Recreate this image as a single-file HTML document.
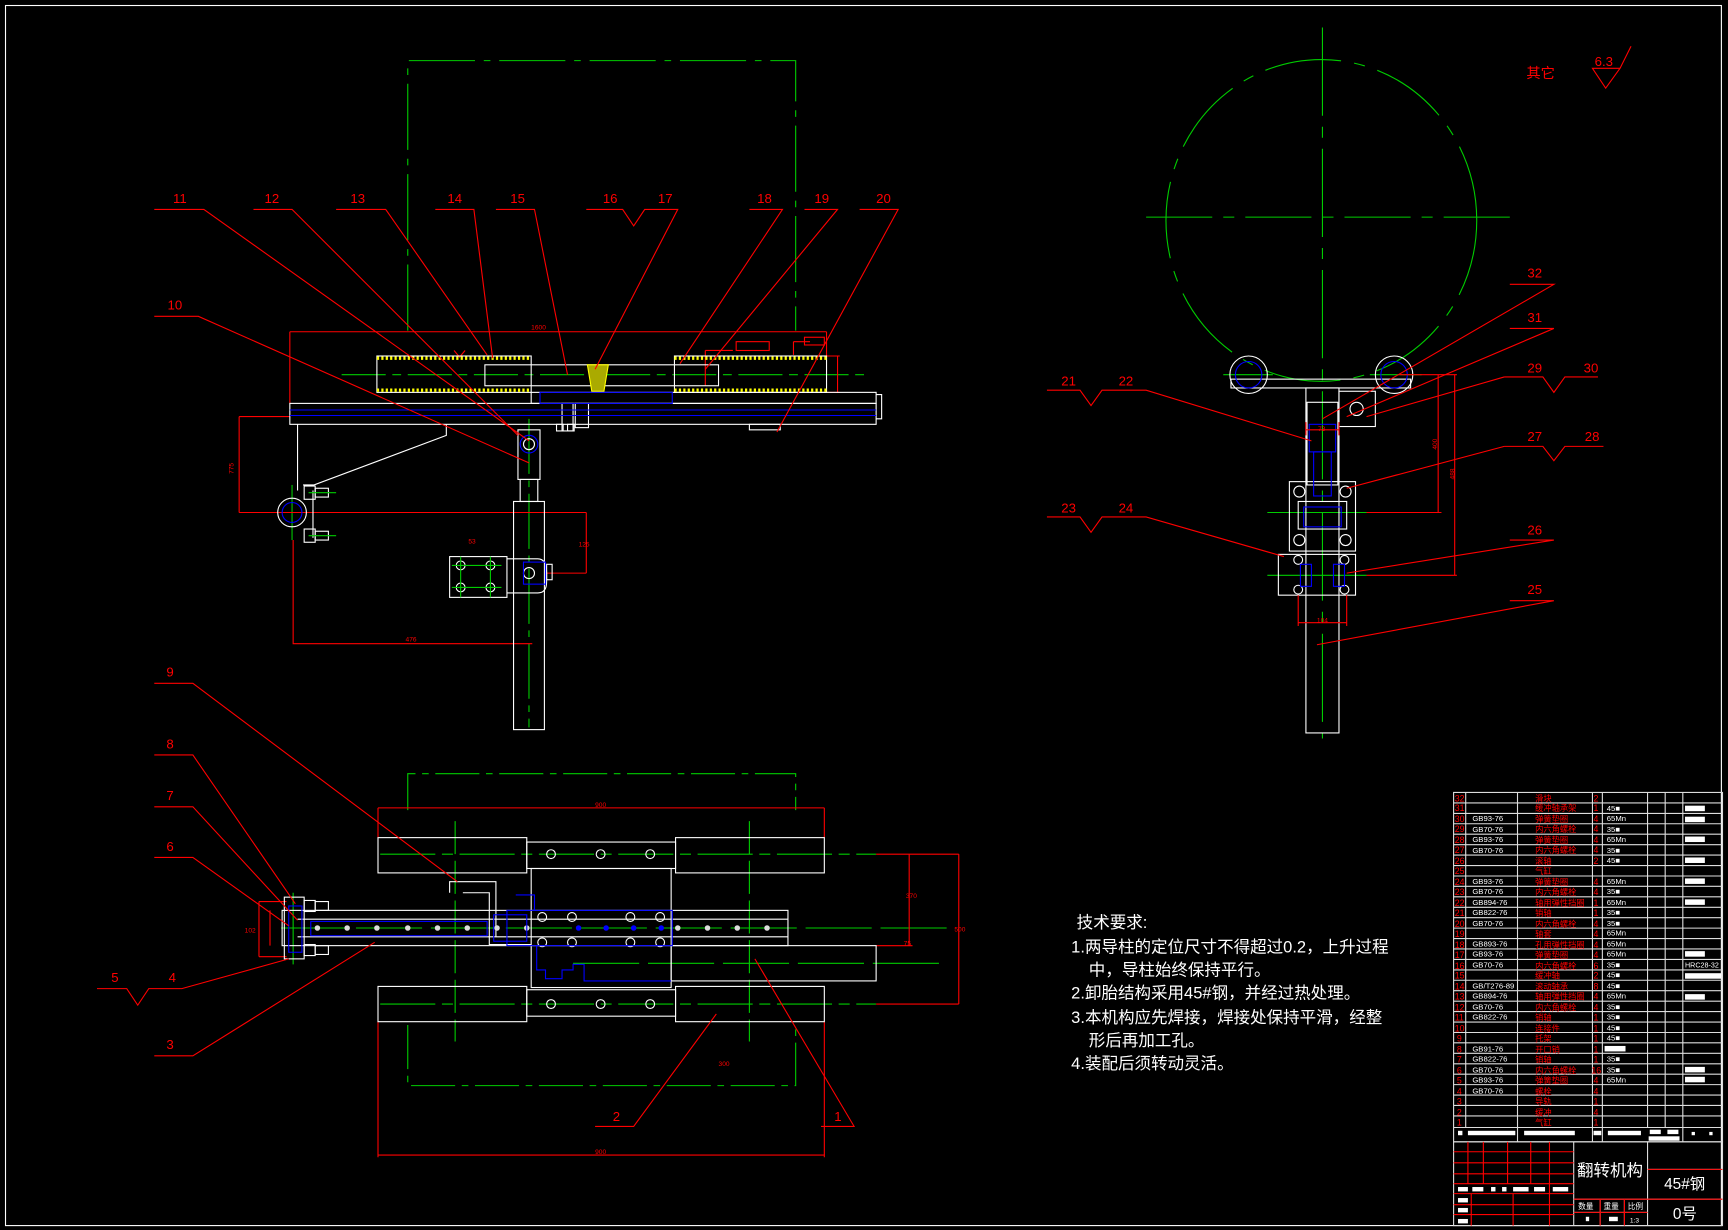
<!DOCTYPE html>
<html><head><meta charset="utf-8"><style>
html,body{margin:0;padding:0;background:#000;}
svg{display:block}
text{font-family:"Liberation Sans","Noto Sans CJK SC",sans-serif;}
</style></head><body>
<svg width="1728" height="1230" viewBox="0 0 1568 1116" preserveAspectRatio="none" xmlns="http://www.w3.org/2000/svg">
<rect x="0" y="0" width="1568" height="1116" fill="#000"/>
<rect x="5" y="5" width="1557" height="1107" fill="none" stroke="#fff" stroke-width="1"/>

<!-- ========== TOP-LEFT VIEW ========== -->
<g fill="none" stroke-width="1">
<path d="M370 300 V55 H722 V300" stroke="#0c0" stroke-dasharray="60 8 6 8"/>
<line x1="310" y1="340" x2="790" y2="340" stroke="#0c0" stroke-dasharray="40 6 8 6"/>
<line x1="480" y1="380" x2="480" y2="660" stroke="#0c0" stroke-dasharray="50 6 6 6"/>
<line x1="240" y1="465" x2="310" y2="465" stroke="#0c0"/>
<line x1="265" y1="440" x2="265" y2="490" stroke="#0c0"/>
<!-- dims -->
<g stroke="#f00">
<line x1="263" y1="301" x2="750" y2="301"/><line x1="263" y1="301" x2="263" y2="366"/>
<line x1="750" y1="301" x2="750" y2="323"/>
<path d="M217 378 H263 M217 378 V465 M217 465 H532 M532 465 V520 M495 520 H532"/>
<path d="M266 490 V584 H483"/>
<path d="M760 323 V356 M750 323 H762 M750 356 H762"/>
<path d="M720 310 V322 M720 310 H735"/><rect x="730" y="306" width="18" height="7"/>
<path d="M640 318 V350 M640 318 H665"/><rect x="668" y="310" width="30" height="8"/>
<path d="M412 318 L417 324 L422 318"/>
</g>
<g fill="#f00" font-size="6" stroke="none">
<text x="482" y="299">1600</text><text x="207" y="425" transform="rotate(-90 212 425)">775</text>
<text x="368" y="582">476</text><text x="525" y="496">125</text><text x="425" y="493">53</text>
</g>
<!-- tubes -->
<g stroke="#fff">
<rect x="342" y="323" width="140" height="33"/>
<rect x="612" y="323" width="138" height="33"/>
<rect x="440" y="331" width="212" height="19"/>
<rect x="482" y="356" width="313" height="10"/>
<rect x="263" y="366" width="532" height="19"/>
<path d="M795 358 H800 V380 H795"/>
<path d="M270 385 V445 M405 385 V395 L285 440 H275"/>
<rect x="466" y="455" width="28" height="207"/>
<rect x="472" y="435" width="16" height="20"/>
<rect x="470" y="390" width="20" height="45"/>
<rect x="408" y="505" width="52" height="37"/>
<path d="M460 507 H488 Q496 507 496 520 V528 Q496 538 488 538 H460"/>
<rect x="496" y="512" width="5" height="14"/>
<rect x="276" y="441" width="10" height="12"/><rect x="286" y="443" width="12" height="8"/>
<rect x="276" y="480" width="10" height="12"/><rect x="286" y="482" width="12" height="8"/>
<line x1="284" y1="445" x2="284" y2="488"/>
<rect x="522" y="366" width="12" height="22"/><rect x="510" y="366" width="10" height="25"/>
<rect x="680" y="385" width="28" height="5"/>
<rect x="515" y="385" width="6" height="6"/><rect x="505" y="385" width="6" height="6"/>
<circle cx="265" cy="465" r="13"/>
<circle cx="418" cy="513" r="4"/><circle cx="445" cy="513" r="4"/>
<circle cx="418" cy="533" r="4"/><circle cx="445" cy="533" r="4"/>
<circle cx="480" cy="520" r="5"/>
<circle cx="480" cy="403" r="5"/>
</g>
<g stroke="#ff0" stroke-width="3" stroke-dasharray="2 2">
<line x1="342" y1="325" x2="482" y2="325"/><line x1="342" y1="354" x2="482" y2="354"/>
<line x1="612" y1="325" x2="750" y2="325"/><line x1="612" y1="354" x2="750" y2="354"/>
</g>
<path d="M533 331 H552 L548 355 H537 Z" fill="#aa0" stroke="#ff0"/>
<g stroke="#00f">
<line x1="263" y1="372" x2="795" y2="372"/><line x1="263" y1="377" x2="795" y2="377"/>
<rect x="490" y="356" width="120" height="10"/>
<circle cx="265" cy="465" r="9"/><circle cx="480" cy="403" r="8"/>
<rect x="475" y="510" width="20" height="20"/>
</g>
<g stroke="#0c0">
<line x1="410" y1="513" x2="455" y2="513"/><line x1="410" y1="533" x2="455" y2="533"/>
<line x1="418" y1="505" x2="418" y2="542"/><line x1="445" y1="505" x2="445" y2="542"/>
<line x1="280" y1="447" x2="305" y2="447"/><line x1="280" y1="486" x2="305" y2="486"/>
</g>
</g>

<!-- leaders top -->
<g stroke="#f00" fill="none">
<path d="M140 190 H185 L480 400"/>
<path d="M230 190 H265 L470 395"/>
<path d="M305 190 H350 L442 322"/>
<path d="M395 190 H430 L447 325"/>
<path d="M450 190 H485 L515 340"/>
<path d="M532 190 H565 L575 205 L585 190 H615 L540 335"/>
<path d="M680 190 H710 L617 330"/>
<path d="M730 190 H760 L640 335"/>
<path d="M780 190 H815 L705 392"/>
<path d="M140 287 H180 L480 420"/>
</g>
<g fill="#f00" font-size="12">
<text x="157" y="184">11</text><text x="240" y="184">12</text><text x="318" y="184">13</text>
<text x="406" y="184">14</text><text x="463" y="184">15</text><text x="547" y="184">16</text>
<text x="597" y="184">17</text><text x="687" y="184">18</text><text x="739" y="184">19</text>
<text x="795" y="184">20</text><text x="152" y="281">10</text>
</g>

<!-- ========== BOTTOM-LEFT VIEW ========== -->
<g fill="none">
<path d="M370 735 V702 H722 V735 M370 930 V985 H722 V930" stroke="#0c0" stroke-dasharray="40 6 6 6"/>
<g stroke="#0c0">
<line x1="345" y1="775" x2="795" y2="775" stroke-dasharray="50 6 10 6"/>
<line x1="345" y1="911" x2="795" y2="911" stroke-dasharray="50 6 10 6"/>
<line x1="255" y1="842" x2="860" y2="842" stroke-dasharray="60 8"/>
<line x1="520" y1="874" x2="860" y2="874" stroke-dasharray="60 8"/>
<line x1="413" y1="745" x2="413" y2="945" stroke-dasharray="30 6"/>
<line x1="680" y1="745" x2="680" y2="945" stroke-dasharray="30 6"/>
<line x1="266" y1="810" x2="266" y2="875"/>
</g>
<g stroke="#f00">
<path d="M343 733 H748 M343 733 V760 M748 733 V760 M343 927 V1050 M748 927 V1050 M343 1048 H748"/>
<path d="M795 775 H870 M795 911 H870 M825 775 V858 M870 775 V911 M795 858 H828"/>
<path d="M235 818 V868 M235 818 H260 M235 868 H260 M245 826 V858"/>
</g>
<g fill="#f00" stroke="none" font-size="6"><text x="540" y="732">900</text><text x="540" y="1047">900</text><text x="652" y="967">300</text>
<text x="822" y="815">370</text><text x="866" y="845">500</text><text x="222" y="846">102</text><text x="820" y="858">75</text></g>
<g stroke="#fff">
<rect x="343" y="760" width="135" height="32"/><rect x="613" y="760" width="135" height="32"/>
<rect x="478" y="764" width="135" height="24"/>
<rect x="343" y="895" width="135" height="32"/><rect x="613" y="895" width="135" height="32"/>
<rect x="478" y="898" width="135" height="24"/>
<rect x="482" y="788" width="127" height="108"/>
<rect x="256" y="826" width="459" height="32"/>
<line x1="270" y1="834" x2="715" y2="834"/><line x1="270" y1="850" x2="715" y2="850"/>
<rect x="609" y="858" width="186" height="32"/>
<path d="M408 810 V800 H450 V850 M420 810 H444 V857 H482"/>
<rect x="258" y="814" width="18" height="56"/>
<rect x="276" y="817" width="10" height="10"/><rect x="286" y="818" width="12" height="8"/>
<rect x="276" y="857" width="10" height="10"/><rect x="286" y="858" width="12" height="8"/>
<circle cx="500" cy="775" r="4"/><circle cx="545" cy="775" r="4"/><circle cx="590" cy="775" r="4"/>
<circle cx="500" cy="911" r="4"/><circle cx="545" cy="911" r="4"/><circle cx="590" cy="911" r="4"/>
<circle cx="492" cy="832" r="4"/><circle cx="519" cy="832" r="4"/><circle cx="572" cy="832" r="4"/><circle cx="599" cy="832" r="4"/>
<circle cx="492" cy="855" r="4"/><circle cx="519" cy="855" r="4"/><circle cx="572" cy="855" r="4"/><circle cx="599" cy="855" r="4"/>
</g>
<g fill="#ddd" stroke="none">
<circle cx="288" cy="842" r="2.5"/><circle cx="315" cy="842" r="2.5"/><circle cx="342" cy="842" r="2.5"/><circle cx="370" cy="842" r="2.5"/><circle cx="397" cy="842" r="2.5"/><circle cx="424" cy="842" r="2.5"/><circle cx="451" cy="842" r="2.5"/><circle cx="478" cy="842" r="2.5"/><circle cx="615" cy="842" r="2.5"/><circle cx="642" cy="842" r="2.5"/><circle cx="669" cy="842" r="2.5"/><circle cx="696" cy="842" r="2.5"/>
</g>
<g stroke="#00f">
<rect x="262" y="822" width="12" height="42"/>
<rect x="282" y="836" width="160" height="13"/>
<rect x="460" y="826" width="150" height="32"/>
<rect x="448" y="830" width="30" height="24"/>
<path d="M487 858 V880 H495 V888 H510 V880 H520 V875 H530 V890 H609"/>
<path d="M468 812 H485 V826"/>
</g>
<g fill="#00f"><circle cx="525" cy="842" r="2.5"/><circle cx="550" cy="842" r="2.5"/><circle cx="575" cy="842" r="2.5"/><circle cx="600" cy="842" r="2.5"/></g>
</g>
<g stroke="#f00" fill="none">
<path d="M140 620 H175 L415 800"/>
<path d="M140 685 H175 L268 820"/>
<path d="M140 732 H175 L270 835"/>
<path d="M140 778 H175 L262 840"/>
<path d="M88 897 H115 L125 912 L135 897 H165 L262 870"/>
<path d="M140 958 H175 L340 855"/>
<path d="M540 1022 H575 L650 920"/>
<path d="M745 1022 H775 L685 870"/>
</g>
<g fill="#f00" font-size="12">
<text x="151" y="614">9</text><text x="151" y="679">8</text><text x="151" y="726">7</text>
<text x="151" y="772">6</text><text x="101" y="891">5</text><text x="153" y="891">4</text>
<text x="151" y="952">3</text><text x="556" y="1017">2</text><text x="757" y="1017">1</text>
</g>

<!-- ========== RIGHT VIEW ========== -->
<g fill="none">
<ellipse cx="1199" cy="200" rx="141" ry="146" stroke="#0c0" stroke-dasharray="70 12 10 12"/>
<line x1="1200" y1="25" x2="1200" y2="670" stroke="#0c0" stroke-dasharray="80 10 10 10"/>
<line x1="1040" y1="197" x2="1380" y2="197" stroke="#0c0" stroke-dasharray="60 10 10 10"/>
<g stroke="#0c0"><line x1="1110" y1="340" x2="1155" y2="340"/><line x1="1243" y1="340" x2="1290" y2="340"/>
<line x1="1150" y1="465" x2="1240" y2="465"/><line x1="1150" y1="522" x2="1240" y2="522"/></g>
<g stroke="#fff">
<circle cx="1133" cy="340" r="17"/><circle cx="1265" cy="340" r="17"/>
<rect x="1117" y="344" width="163" height="8"/>
<rect x="1185" y="352" width="30" height="313"/>
<rect x="1186" y="365" width="28" height="75"/>
<rect x="1215" y="355" width="33" height="32"/><circle cx="1231" cy="371" r="6"/>
<rect x="1170" y="437" width="60" height="63"/>
<rect x="1178" y="455" width="44" height="25"/>
<rect x="1160" y="503" width="70" height="37"/>
<circle cx="1179" cy="446" r="5"/><circle cx="1221" cy="446" r="5"/><circle cx="1179" cy="490" r="5"/><circle cx="1221" cy="490" r="5"/>
<circle cx="1178" cy="508" r="4"/><circle cx="1220" cy="508" r="4"/><circle cx="1178" cy="535" r="4"/><circle cx="1220" cy="535" r="4"/>
</g>
<g stroke="#00f">
<circle cx="1133" cy="340" r="12"/><circle cx="1265" cy="340" r="12"/>
<rect x="1188" y="385" width="24" height="25"/><rect x="1192" y="410" width="16" height="40"/>
<rect x="1183" y="460" width="34" height="18"/>
<rect x="1180" y="512" width="10" height="20"/><rect x="1210" y="512" width="10" height="20"/>
</g>
<g stroke="#f00">
<path d="M1270 340 H1310 M1305 340 V465 M1240 465 H1308 M1310 340 H1322 M1320 340 V522 M1240 522 H1322"/>
<path d="M1185 383 V395 M1215 383 V395 M1185 390 H1215 M1178 540 V568 M1222 540 V568 M1178 565 H1222"/>
</g>
<g fill="#f00" font-size="6" stroke="none"><text x="1298" y="408" transform="rotate(-90 1301 405)">400</text><text x="1314" y="435" transform="rotate(-90 1317 432)">488</text><text x="1195" y="565">104</text><text x="1196" y="391">73</text></g>
</g>
<g stroke="#f00" fill="none">
<path d="M1370 258 H1410 L1200 380"/>
<path d="M1370 298 H1410 L1222 378"/>
<path d="M1365 342 H1400 L1410 356 L1420 342 H1450 M1365 342 L1240 378"/>
<path d="M1365 405 H1400 L1410 418 L1420 405 H1455 M1365 405 L1222 443"/>
<path d="M1370 490 H1410 L1222 520"/>
<path d="M1370 545 H1410 L1195 585"/>
<path d="M950 354 H980 L990 368 L1000 354 H1040 L1190 400"/>
<path d="M950 469 H980 L990 483 L1000 469 H1040 L1165 505"/>
<path d="M1445 62 H1470 L1457 80 Z M1470 62 L1480 42"/>
</g>
<g fill="#f00" font-size="12">
<text x="1386" y="252">32</text><text x="1386" y="292">31</text><text x="1386" y="338">29</text><text x="1437" y="338">30</text>
<text x="1386" y="400">27</text><text x="1438" y="400">28</text><text x="1386" y="485">26</text><text x="1386" y="539">25</text>
<text x="963" y="350">21</text><text x="1015" y="350">22</text><text x="963" y="465">23</text><text x="1015" y="465">24</text>
<text x="1385" y="71" font-size="13">其它</text><text x="1447" y="60" font-size="12">6.3</text>
</g>

<!-- ========== TECH REQUIREMENTS ========== -->
<g fill="#fff" font-size="15">
<text x="977" y="842">技术要求:</text>
<text x="972" y="864">1.两导柱的定位尺寸不得超过0.2，上升过程</text>
<text x="988" y="885">中，导柱始终保持平行。</text>
<text x="972" y="906">2.卸胎结构采用45#钢，并经过热处理。</text>
<text x="972" y="928">3.本机构应先焊接，焊接处保持平滑，经整</text>
<text x="988" y="949">形后再加工孔。</text>
<text x="972" y="970">4.装配后须转动灵活。</text>
</g>

<!-- ========== PARTS TABLE ========== -->
<g stroke="#ddd" fill="none" stroke-width="1">
<rect x="1319" y="719" width="244" height="317"/>
<path d="M1330 719 V1023 M1377 719 V1036 M1445 719 V1036 M1454 719 V1036 M1495 719 V1023 M1511 719 V1023 M1527 719 V1036"/>
<path d="M1319 728.5 H1563 M1319 738 H1563 M1319 747.4 H1563 M1319 756.9 H1563 M1319 766.4 H1563 M1319 775.8 H1563 M1319 785.3 H1563 M1319 794.8 H1563 M1319 804.2 H1563 M1319 813.7 H1563 M1319 823.2 H1563 M1319 832.6 H1563 M1319 842.1 H1563 M1319 851.6 H1563 M1319 861 H1563 M1319 870.5 H1563 M1319 880 H1563 M1319 889.4 H1563 M1319 898.9 H1563 M1319 908.4 H1563 M1319 917.8 H1563 M1319 927.3 H1563 M1319 936.8 H1563 M1319 946.2 H1563 M1319 955.7 H1563 M1319 965.2 H1563 M1319 974.6 H1563 M1319 984.1 H1563 M1319 993.6 H1563 M1319 1003 H1563 M1319 1012.5 H1563 M1319 1023 H1563"/>
<rect x="1319" y="1036" width="244" height="76"/>
<path d="M1428 1036 V1112 M1495 1036 V1112 M1428 1088 H1495 M1428 1100 H1495 M1452 1088 V1112 M1474 1088 V1112 M1495 1061 H1563 M1495 1088 H1563"/>
</g>
<g stroke="#f00" fill="none">
<path d="M1319 1045 H1428 M1319 1055 H1428 M1319 1065 H1428 M1319 1074 H1428 M1319 1083 H1428 M1319 1093 H1428 M1319 1102 H1428"/>
<path d="M1332 1036 V1074 M1346 1036 V1074 M1368 1036 V1074 M1389 1036 V1074 M1406 1036 V1112 M1335 1083 V1112 M1373 1083 V1112"/>
<path d="M1428 1088 H1495 M1428 1100 H1495 M1495 1061 H1563 M1495 1088 H1563 M1452 1088 V1112 M1474 1088 V1112"/>
</g>
<g fill="#fff">
<rect x="1323" y="1026" width="4" height="4"/><rect x="1332" y="1026" width="43" height="4"/><rect x="1383" y="1026" width="46" height="4"/><rect x="1446" y="1026" width="7" height="4"/><rect x="1459" y="1026" width="30" height="4"/><rect x="1497" y="1025" width="10" height="4"/><rect x="1513" y="1025" width="10" height="4"/><rect x="1496" y="1031" width="28" height="4"/><rect x="1535" y="1027" width="3" height="3"/><rect x="1551" y="1027" width="3" height="3"/>
<rect x="1323" y="1077" width="9" height="4"/><rect x="1336" y="1077" width="10" height="4"/><rect x="1353" y="1077" width="4" height="4"/><rect x="1363" y="1077" width="4" height="4"/><rect x="1373" y="1077" width="14" height="4"/><rect x="1392" y="1077" width="10" height="4"/><rect x="1409" y="1077" width="14" height="4"/>
<rect x="1323" y="1087" width="9" height="4"/><rect x="1323" y="1096" width="9" height="4"/><rect x="1323" y="1106" width="9" height="4"/><rect x="1323" y="1115" width="9" height="0"/>
<rect x="1439" y="1104" width="3" height="4"/><rect x="1460" y="1104" width="8" height="4"/>
<rect x="1529" y="731" width="18" height="5"/><rect x="1529" y="741" width="18" height="5"/><rect x="1529" y="759" width="18" height="5"/><rect x="1529" y="778" width="18" height="5"/><rect x="1529" y="797" width="18" height="5"/><rect x="1529" y="816" width="18" height="5"/><rect x="1529" y="863" width="18" height="5"/><rect x="1529" y="883" width="33" height="5"/><rect x="1529" y="902" width="18" height="5"/><rect x="1529" y="968" width="18" height="5"/><rect x="1529" y="977" width="18" height="5"/><rect x="1456" y="949" width="19" height="5"/>
</g>
<g font-size="7" fill="#fff">
<text x="1336" y="745">GB93-76</text><text x="1336" y="755">GB70-76</text><text x="1336" y="764">GB93-76</text><text x="1336" y="774">GB70-76</text>
<text x="1336" y="802">GB93-76</text><text x="1336" y="811">GB70-76</text><text x="1336" y="821">GB894-76</text><text x="1336" y="830">GB822-76</text><text x="1336" y="840">GB70-76</text>
<text x="1336" y="859">GB893-76</text><text x="1336" y="868">GB93-76</text><text x="1336" y="878">GB70-76</text>
<text x="1336" y="897">GB/T276-89</text><text x="1336" y="906">GB894-76</text><text x="1336" y="916">GB70-76</text><text x="1336" y="925">GB822-76</text>
<text x="1336" y="954">GB91-76</text><text x="1336" y="963">GB822-76</text><text x="1336" y="973">GB70-76</text><text x="1336" y="982">GB93-76</text><text x="1336" y="992">GB70-76</text>
<text x="1458" y="736">45■</text><text x="1458" y="745">65Mn</text><text x="1458" y="755">35■</text><text x="1458" y="764">65Mn</text><text x="1458" y="774">35■</text><text x="1458" y="783">45■</text>
<text x="1458" y="802">65Mn</text><text x="1458" y="811">35■</text><text x="1458" y="821">65Mn</text><text x="1458" y="830">35■</text><text x="1458" y="840">35■</text><text x="1458" y="849">65Mn</text><text x="1458" y="859">65Mn</text><text x="1458" y="868">65Mn</text><text x="1458" y="878">35■</text><text x="1458" y="887">45■</text><text x="1458" y="897">45■</text><text x="1458" y="906">65Mn</text><text x="1458" y="916">35■</text><text x="1458" y="925">35■</text><text x="1458" y="935">45■</text><text x="1458" y="944">45■</text><text x="1458" y="963">35■</text><text x="1458" y="973">35■</text><text x="1458" y="982">65Mn</text>
<text x="1529" y="878" font-size="6.5">HRC28-32</text>
</g>
<g font-size="8" fill="#f00">
<text x="1320" y="727">32</text><text x="1320" y="736">31</text><text x="1320" y="746">30</text><text x="1320" y="755">29</text><text x="1320" y="765">28</text><text x="1320" y="774">27</text><text x="1320" y="784">26</text><text x="1320" y="793">25</text><text x="1320" y="803">24</text><text x="1320" y="812">23</text><text x="1320" y="822">22</text><text x="1320" y="831">21</text><text x="1320" y="841">20</text><text x="1320" y="850">19</text><text x="1320" y="860">18</text><text x="1320" y="869">17</text><text x="1320" y="879">16</text><text x="1320" y="888">15</text><text x="1320" y="898">14</text><text x="1320" y="907">13</text><text x="1320" y="917">12</text><text x="1320" y="926">11</text><text x="1320" y="936">10</text><text x="1322" y="945">9</text><text x="1322" y="955">8</text><text x="1322" y="964">7</text><text x="1322" y="974">6</text><text x="1322" y="983">5</text><text x="1322" y="993">4</text><text x="1322" y="1002">3</text><text x="1322" y="1012">2</text><text x="1322" y="1021">1</text>
<text x="1446" y="727">2</text><text x="1446" y="736">1</text><text x="1446" y="746">4</text><text x="1446" y="755">4</text><text x="1446" y="765">4</text><text x="1446" y="774">4</text><text x="1446" y="784">2</text><text x="1446" y="803">4</text><text x="1446" y="812">4</text><text x="1446" y="822">1</text><text x="1446" y="831">1</text><text x="1446" y="841">4</text><text x="1446" y="850">4</text><text x="1446" y="860">4</text><text x="1446" y="869">4</text><text x="1446" y="879">6</text><text x="1446" y="888">2</text><text x="1446" y="898">8</text><text x="1446" y="907">4</text><text x="1446" y="917">4</text><text x="1446" y="926">1</text><text x="1446" y="936">1</text><text x="1446" y="945">1</text><text x="1446" y="955">1</text><text x="1446" y="964">1</text><text x="1444" y="974">16</text><text x="1446" y="983">4</text><text x="1446" y="993">4</text><text x="1446" y="1002">1</text><text x="1446" y="1012">4</text><text x="1446" y="1021">1</text>
</g>
<g font-size="7.5" fill="#f00">
<text x="1393" y="727">滑块</text><text x="1393" y="736">缓冲轴承架</text><text x="1393" y="746">弹簧垫圈</text><text x="1393" y="755">内六角螺栓</text><text x="1393" y="765">弹簧垫圈</text><text x="1393" y="774">内六角螺栓</text><text x="1393" y="784">滚轴</text><text x="1393" y="793">气缸</text><text x="1393" y="803">弹簧垫圈</text><text x="1393" y="812">内六角螺栓</text><text x="1393" y="822">轴用弹性挡圈</text><text x="1393" y="831">销轴</text><text x="1393" y="841">内六角螺栓</text><text x="1393" y="850">轴套</text><text x="1393" y="860">孔用弹性挡圈</text><text x="1393" y="869">弹簧垫圈</text><text x="1393" y="879">内六角螺栓</text><text x="1393" y="888">缓冲轴</text><text x="1393" y="898">滚动轴承</text><text x="1393" y="907">轴用弹性挡圈</text><text x="1393" y="917">内六角螺栓</text><text x="1393" y="926">销轴</text><text x="1393" y="936">连接件</text><text x="1393" y="945">托架</text><text x="1393" y="955">开口销</text><text x="1393" y="964">销轴</text><text x="1393" y="974">内六角螺栓</text><text x="1393" y="983">弹簧垫圈</text><text x="1393" y="993">螺栓</text><text x="1393" y="1002">导轨</text><text x="1393" y="1012">缓冲</text><text x="1393" y="1021">气缸</text>
</g>
<g fill="#fff">
<text x="1431" y="1067" font-size="15">翻转机构</text>
<text x="1510" y="1079" font-size="14" font-family="Liberation Serif, Noto Serif CJK SC, serif">45#钢</text>
<text x="1518" y="1106" font-size="14" font-family="Liberation Serif, Noto Serif CJK SC, serif">0号</text>
<text x="1432" y="1097" font-size="7">数量</text><text x="1455" y="1097" font-size="7">重量</text><text x="1477" y="1097" font-size="7">比例</text>
<text x="1479" y="1109" font-size="6">1:3</text>
</g>
</svg>
</body></html>
